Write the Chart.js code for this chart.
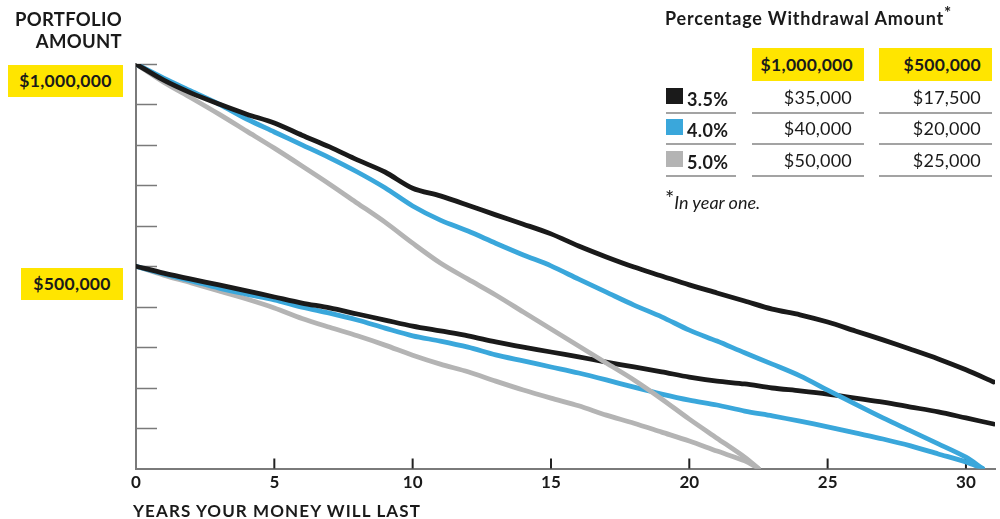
<!DOCTYPE html>
<html>
<head>
<meta charset="utf-8">
<script src="https://cdn.jsdelivr.net/npm/chart.js@4.4.1/dist/chart.umd.min.js"></script>
<style>
  body { margin: 0; background: #fff; font-family: Lato, "Open Sans", sans-serif; color: #1a1a1a; }
  #wrap { position: relative; width: 1000px; height: 519px; }
  canvas { position: absolute; left: 0; top: 0; }
  .abs { position: absolute; white-space: nowrap; }
  .bold { font-weight: 700; }
  .yellow { background: #ffe500; font-weight: 700; font-size: 17.5px; letter-spacing: 0.3px; }
  .rule { position: absolute; height: 2px; background: #a3a3a3; }
  .sw { position: absolute; width: 17px; height: 16px; }
</style>
</head>
<body>
<div id="wrap">
  <canvas id="chart" width="1000" height="519"></canvas>

  <div class="abs bold" style="right:878px; top:8px; font-size:18.5px; line-height:22px; text-align:right; letter-spacing:0.3px;">PORTFOLIO<br>AMOUNT</div>
  <div class="abs yellow" style="left:8px; top:65px; width:115px; height:32px; line-height:32px; text-align:center;">$1,000,000</div>
  <div class="abs yellow" style="left:21px; top:268px; width:102px; height:32px; line-height:32px; text-align:center;">$500,000</div>
  <div class="abs bold" style="left:133px; top:501px; font-size:17px; line-height:20px; letter-spacing:1.1px;">YEARS YOUR MONEY WILL LAST</div>

  <div class="abs bold" style="left:665px; top:7px; font-size:18px; line-height:22px; letter-spacing:0.8px;">Percentage Withdrawal Amount<span style="font-size:17px; position:relative; top:-6px;">*</span></div>
  <div id="table"></div>
  <div class="abs" style="left:665px; top:190px; font-size:18px; line-height:22px; font-style:italic;"><span style="font-size:22px; font-style:normal; position:relative; top:-3px;">*</span>In year one.</div>
</div>

<script>
// x = years, y = portfolio value in dollars
const years = [0, 1, 2, 3, 4, 5, 6, 7, 8, 9, 10, 11, 12, 13, 14, 15, 16, 17, 18, 19, 20,
  21, 22, 23, 24, 25, 26, 27, 28, 29, 30, 31];
const depleted5 = 22.5;   // year the 5% portfolios hit zero
const depleted4 = 30.6;   // year the 4% portfolios hit zero

// $1,000,000 start (thousands)
const black1M = [1000, 960, 928, 901, 876, 854, 824, 795, 763, 733, 693, 674, 651, 627, 604, 580,
  550, 523, 498, 476, 454, 434, 414, 394, 380, 362, 340, 318, 295, 271, 244, 214];
const blue1M = [1000, 965, 933, 901, 864, 832, 800, 768, 733, 694, 649, 614, 587, 557, 528, 501,
  468, 436, 404, 375, 342, 315, 286, 258, 229, 194, 159, 125, 93, 61, 28, 0];
const gray1M = [1000, 955, 916, 876, 834, 792, 748, 703, 656, 609, 557, 508, 468, 429, 387, 345,
  303, 261, 219, 172, 122, 75, 28, 0];

// $500,000 start (thousands)
const black500 = [500, 483, 468, 454, 439, 424, 409, 397, 382, 367, 352, 340, 328, 313, 300, 288,
  276, 263, 251, 239, 226, 216, 209, 199, 192, 184, 174, 164, 152, 140, 125, 110];
const blue500 = [500, 481, 464, 446, 431, 417, 399, 384, 367, 347, 328, 315, 300, 281, 266, 251,
  236, 219, 201, 184, 169, 157, 142, 130, 117, 103, 88, 73, 56, 36, 16, 0];
const gray500 = [500, 478, 459, 439, 419, 397, 371, 349, 328, 305, 280, 258, 239, 216, 194, 174,
  155, 132, 112, 90, 68, 43, 19, 0];

const xTicks = [0, 5, 10, 15, 20, 25, 30];
const yTickStep = 100000;

// table
const rates = ["3.5%", "4.0%", "5.0%"];
const colors = ["#1a1a1a", "#3aa7db", "#b4b4b4"];
const startAmounts = ["$1,000,000", "$500,000"];
const withdraw1M = ["$35,000", "$40,000", "$50,000"];
const withdraw500 = ["$17,500", "$20,000", "$25,000"];

// build {x,y}; last value of a depleted series sits at its depletion year
function pts(vals, endYear) {
  return vals.map((v, i) => ({
    x: (endYear !== undefined && i === vals.length - 1) ? endYear : years[i],
    y: v * 1000
  }));
}

// table markup
const tbl = document.getElementById("table");
let html = "";
const cols = [{ l: 752, w: 112 }, { l: 879, w: 113 }];
cols.forEach((c, i) => {
  html += `<div class="abs yellow" style="left:${c.l}px; top:48px; width:${c.w}px; height:33px; line-height:33px; text-align:right; box-sizing:border-box; padding-right:11px;">${startAmounts[i]}</div>`;
});
const rowY = [98, 129, 161];
rates.forEach((r, i) => {
  const cy = rowY[i];
  html += `<div class="sw" style="left:666px; top:${cy - 10}px; background:${colors[i]};"></div>`;
  html += `<div class="abs bold" style="left:687px; top:${cy - 10}px; font-size:18px; line-height:22px; letter-spacing:0.4px;">${r}</div>`;
  html += `<div class="abs" style="right:${1000 - 852}px; top:${cy - 12}px; font-size:18px; line-height:22px; letter-spacing:0.2px;">${withdraw1M[i]}</div>`;
  html += `<div class="abs" style="right:${1000 - 981}px; top:${cy - 12}px; font-size:18px; line-height:22px; letter-spacing:0.2px;">${withdraw500[i]}</div>`;
  html += `<div class="rule" style="left:666px; width:70px; top:${cy + 14}px;"></div>`;
  cols.forEach(c => {
    html += `<div class="rule" style="left:${c.l}px; width:${c.w}px; top:${cy + 14}px;"></div>`;
  });
});
tbl.innerHTML = html;

// inner tick marks drawn from the scales
const innerTicks = {
  id: "innerTicks",
  beforeDatasetsDraw(chart) {
    const { ctx, scales: { x, y } } = chart;
    ctx.save();
    ctx.lineWidth = 1.5;
    ctx.strokeStyle = "#7a7a7a";
    for (let v = yTickStep; v <= 1000000; v += yTickStep) {
      const py = Math.round(y.getPixelForValue(v)) + 0.5;
      ctx.beginPath();
      ctx.moveTo(x.left, py);
      ctx.lineTo(x.left + 21, py);
      ctx.stroke();
    }
    ctx.lineWidth = 2;
    ctx.strokeStyle = "#222";
    xTicks.slice(1).forEach(t => {
      const px = x.getPixelForValue(t);
      ctx.beginPath();
      ctx.moveTo(px, y.bottom);
      ctx.lineTo(px, y.bottom - 10);
      ctx.stroke();
    });
    ctx.restore();
  }
};

const line = (data, color) => ({
  data, borderColor: color, borderWidth: 4.8, pointRadius: 0,
  tension: 0.3, borderCapStyle: "round", borderJoinStyle: "round", fill: false
});

new Chart(document.getElementById("chart"), {
  type: "line",
  data: {
    datasets: [
      line(pts(black1M), colors[0]),
      line(pts(blue1M, depleted4), colors[1]),
      line(pts(gray1M, depleted5), colors[2]),
      line(pts(black500), colors[0]),
      line(pts(blue500, depleted4), colors[1]),
      line(pts(gray500, depleted5), colors[2])
    ]
  },
  options: {
    responsive: false,
    animation: false,
    layout: { padding: { top: 64, right: 5, left: 0, bottom: 0 } },
    plugins: { legend: { display: false }, tooltip: { enabled: false } },
    scales: {
      x: {
        type: "linear", min: 0, max: 31.05,
        grid: { display: false, drawTicks: false },
        border: { display: true, color: "#7a7a7a", width: 2 },
        afterBuildTicks: s => { s.ticks = xTicks.map(v => ({ value: v })); },
        afterFit: s => { s.height = 50.5; },
        ticks: { padding: 4, color: "#1a1a1a", font: { family: "Lato", weight: "bold", size: 17 } }
      },
      y: {
        min: 0, max: 1000000,
        grid: { display: false, drawTicks: false },
        border: { display: true, color: "#7a7a7a", width: 2 },
        ticks: { display: false },
        afterFit: s => { s.width = 136; }
      }
    }
  },
  plugins: [innerTicks]
});
</script>
</body>
</html>
